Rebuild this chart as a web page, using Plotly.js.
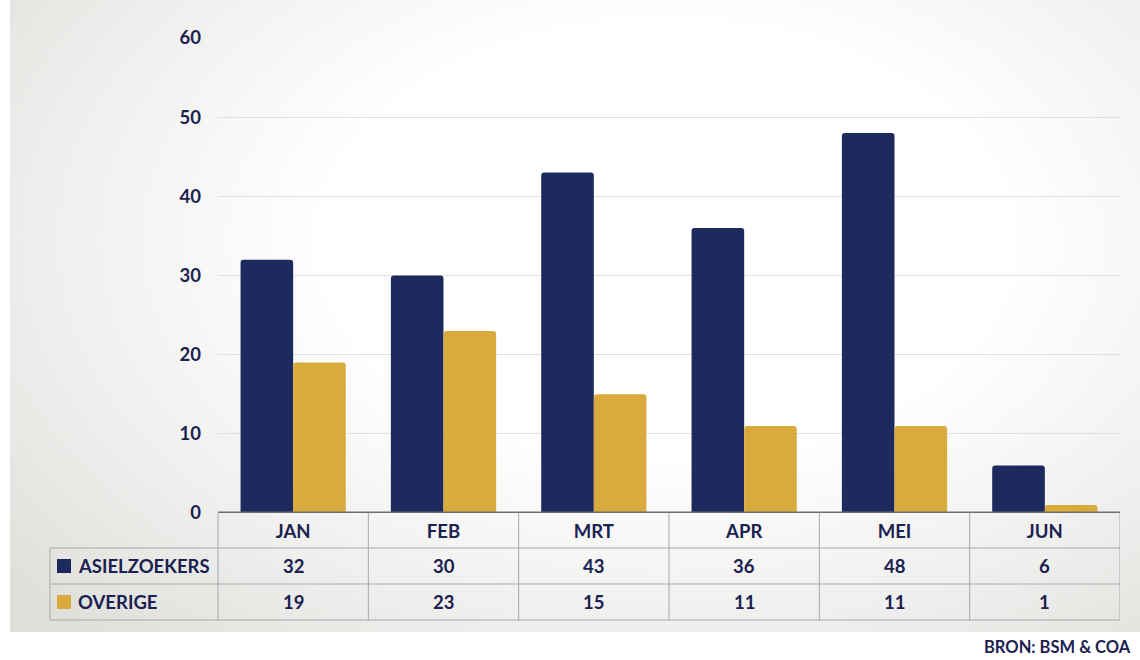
<!DOCTYPE html>
<html><head><meta charset="utf-8">
<script src="https://cdn.plot.ly/plotly-3.0.1.min.js"></script>
<style>
html,body{margin:0;padding:0;background:#fff;}
#bg{position:absolute;left:10px;top:0;width:1130px;height:632px;
background:radial-gradient(ellipse 75% 85% at 58% 38%, #ffffff 40%, #efefed 72%, #dfdfdc 100%);}
#chart{position:absolute;left:0;top:0;width:1140px;height:660px;}
</style></head>
<body><div id="bg"></div><div id="chart"></div>
<script>
const months = ["JAN","FEB","MRT","APR","MEI","JUN"];
const asielzoekers = [32,30,43,36,48,6];
const overige = [19,23,15,11,11,1];
const seriesNames = ["ASIELZOEKERS","OVERIGE"];
const navy = "#1c2a5e", gold = "#d9aa3c", txt = "#1b2150";
const font = {family:"Lato, 'Open Sans', sans-serif", size:18.5, color:txt, weight:"bold"};

const traces = [
 {type:"bar", x:months, y:asielzoekers, name:seriesNames[0], marker:{color:navy, cornerradius:3}},
 {type:"bar", x:months, y:overige, name:seriesNames[1], marker:{color:gold, cornerradius:3}}
];

const ph = 475;
const r1 = -35/ph, r2 = -71/ph, r3 = -107/ph;
const labelLeft = (50-218)/902;
const lineStyle = {color:"#a8a8a8", width:1};
const shapes = [];
shapes.push({type:"line", xref:"paper", yref:"paper", x0:labelLeft, x1:1, y0:r1, y1:r1, line:lineStyle});
shapes.push({type:"line", xref:"paper", yref:"paper", x0:labelLeft, x1:1, y0:r2, y1:r2, line:lineStyle});
shapes.push({type:"line", xref:"paper", yref:"paper", x0:labelLeft, x1:1, y0:r3, y1:r3, line:lineStyle});
shapes.push({type:"line", xref:"paper", yref:"paper", x0:labelLeft, x1:labelLeft, y0:r1, y1:r3, line:lineStyle});
shapes.push({type:"line", xref:"paper", yref:"paper", x0:0, x1:0, y0:0, y1:r3, line:lineStyle});
for (let i=0;i<months.length;i++){
  shapes.push({type:"line", xref:"x", yref:"paper", x0:i+0.5, x1:i+0.5, y0:0, y1:r3, line:lineStyle});
}
const swH = 14/ph;
[[navy,(r1+r2)/2],[gold,(r2+r3)/2]].forEach(([c,yc])=>{
  shapes.push({type:"rect", xref:"paper", yref:"paper", x0:-(218-57)/902, x1:-(218-71)/902,
    y0:yc-swH/2, y1:yc+swH/2, fillcolor:c, line:{width:0}});
});
shapes.push({type:"line", xref:"paper", yref:"y", x0:0, x1:1, y0:0, y1:0, line:{color:"#6e6e6e", width:3}});

const annotations = [];
months.forEach((m,i)=>{
  annotations.push({x:m, xref:"x", yref:"paper", y:(r1+r2)/2, text:String(asielzoekers[i]), showarrow:false, font:font, yanchor:"middle"});
  annotations.push({x:m, xref:"x", yref:"paper", y:(r2+r3)/2, text:String(overige[i]), showarrow:false, font:font, yanchor:"middle"});
});
annotations.push({xref:"paper", yref:"paper", x:-(218-76)/902, y:(r1+r2)/2, xanchor:"left", yanchor:"middle", text:seriesNames[0], showarrow:false, font:font});
annotations.push({xref:"paper", yref:"paper", x:-(218-76)/902, y:(r2+r3)/2, xanchor:"left", yanchor:"middle", text:seriesNames[1], showarrow:false, font:font});
annotations.push({xref:"paper", yref:"paper", x:(1132-218)/902, y:-(647-513)/ph, xanchor:"right", yanchor:"middle", text:"BRON: BSM & COA", showarrow:false, borderpad:0, font:{...font, size:16.5}});

const layout = {
  width:1140, height:660,
  margin:{l:218, r:20, t:38, b:147, pad:0},
  paper_bgcolor:"rgba(0,0,0,0)", plot_bgcolor:"rgba(0,0,0,0)",
  barmode:"group", bargap:0.3, bargroupgap:0,
  showlegend:false,
  font:font,
  xaxis:{type:"category", range:[-0.5,5.5], showgrid:false, zeroline:false, ticks:"", showline:false,
    tickfont:font, ticklabelstandoff:5},
  yaxis:{range:[0,60], dtick:10, showgrid:true, gridcolor:"#e0e0e0", gridwidth:1, zeroline:false,
    ticks:"", showline:false, tickfont:font, ticklabelstandoff:16},
  shapes:shapes, annotations:annotations
};
Plotly.newPlot("chart", traces, layout, {displayModeBar:false, staticPlot:true});
</script></body></html>
